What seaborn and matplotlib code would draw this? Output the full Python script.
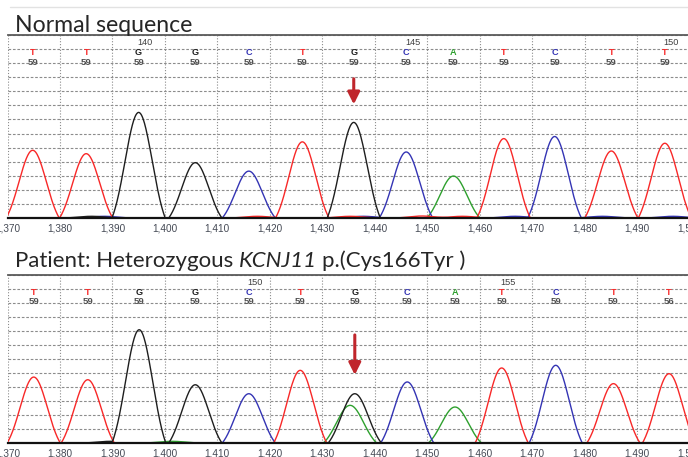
import numpy as np
import pandas as pd
import matplotlib
matplotlib.use('Agg')
import matplotlib.pyplot as plt
import seaborn as sns
from matplotlib.lines import Line2D

# peak tables
# position = scan number, height = signal (one dashed grid step = 100)
normal_pos = [1374.8, 1385.0, 1395.0, 1405.8, 1416.0, 1426.2, 1436.0, 1446.0, 1455.0, 1464.6, 1474.3, 1485.1, 1495.3]
normal_height = [481, 457, 750, 393, 333, 541, 679, 469, 298, 564, 579, 476, 531]
normal_base = ['T', 'T', 'G', 'G', 'C', 'T', 'G', 'C', 'A', 'T', 'C', 'T', 'T']
normal_qv = ['59', '59', '59', '59', '59', '59', '59', '59', '59', '59', '59', '59', '59']
normal_numbers = {2: '140', 7: '145', 12: '150'}
# small background bumps along the baseline
normal_noise_pos = [1386.0, 1388.4, 1417.6, 1435.3, 1437.8, 1449.0, 1456.7, 1466.7, 1483.4, 1496.8]
normal_noise_height = [12, 12, 12, 12, 12, 14, 12, 12, 12, 12]
normal_noise_base = ['G', 'C', 'T', 'T', 'C', 'T', 'T', 'C', 'C', 'C']

patient_pos = [1375.0, 1385.3, 1395.1, 1405.8, 1416.0, 1425.8, 1436.2, 1446.2, 1455.3, 1464.2, 1474.5, 1485.5, 1496.1]
patient_height = [471, 452, 809, 416, 352, 519, 352, 436, 257, 536, 555, 424, 495]
patient_base = ['T', 'T', 'G', 'G', 'C', 'T', 'G', 'C', 'A', 'T', 'C', 'T', 'T']
patient_qv = ['59', '59', '59', '59', '59', '59', '59', '59', '59', '59', '59', '59', '56']
patient_numbers = {4: '150', 9: '155'}
# secondary (heterozygous) A peak under the G call, plus baseline bumps
patient_extra_pos = [1435.3, 1389.6, 1401.4]
patient_extra_height = [269, 12, 12]
patient_extra_base = ['A', 'G', 'A']

mutation_index = 6
x_ticks = list(range(1370, 1501, 10))

base_colors = {'A': '#2ea02e', 'C': '#3434b4', 'G': '#1e1e1e', 'T': '#f82828'}
grid_col = '#8c8c8c'
label_col = '#454a55'
arrow_col = '#c0262c'


def make_traces(pos, height, base):
    # each peak drawn as a clipped gaussian from its read-off position and height
    scan = np.linspace(1366, 1504, 1600)
    frames = []
    for b in ['A', 'C', 'T', 'G']:
        sig = np.zeros_like(scan)
        for p, h, bb in zip(pos, height, base):
            if bb == b:
                g = (np.exp(-(scan - p) ** 2 / (2 * 2.6 ** 2)) - 0.15) / 0.85
                sig += h * np.clip(g, 0, None)
        frames.append(pd.DataFrame({'scan': scan, 'signal': sig, 'base': b}))
    return pd.concat(frames, ignore_index=True)


def style_panel(ax, ytop):
    ax.set_xlim(1370, 1500)
    ax.set_ylim(0, ytop)
    ax.set_xticks(x_ticks)
    ax.set_xticklabels([f'{v:,}' for v in x_ticks], fontsize=7.2, color=label_col,
                       family='Liberation Sans')
    ax.set_yticks(np.arange(0, ytop + 1, 100))
    ax.set_yticklabels([])
    ax.tick_params(length=0, pad=4.3)
    ax.xaxis.grid(True, color=grid_col, linestyle=(0, (1, 1.6)), linewidth=0.8)
    ax.yaxis.grid(True, color=grid_col, linestyle=(0, (2.4, 1.6)), linewidth=0.8)
    ax.set_axisbelow(True)
    for s in ['left', 'right']:
        ax.spines[s].set_visible(False)
    ax.spines['top'].set_color('#5a5a5a')
    ax.spines['top'].set_linewidth(1.3)
    ax.spines['bottom'].set_color('#111111')
    ax.spines['bottom'].set_linewidth(1.6)
    ax.set_xlabel('')
    ax.set_ylabel('')


def base_labels(ax, pos, base, qv, numbers, ytop):
    for i, (p, b, q) in enumerate(zip(pos, base, qv)):
        ax.text(p, ytop - 125, b, color=base_colors[b], fontsize=6.6, ha='center', va='center',
                family='Liberation Sans', fontweight='bold')
        ax.text(p, ytop - 192, q, color='#505050', fontsize=6.8, ha='center', va='center',
                family='Liberation Sans', fontweight='bold')
        if i in numbers:
            ax.text(p + 1.2, ytop - 55, numbers[i], color='#404040', fontsize=6.6, ha='center',
                    va='center', family='Liberation Sans')


sns.set_style('white')
plt.rcParams['font.family'] = ['Lato', 'DejaVu Sans']

fig = plt.figure(figsize=(6.88, 4.57), dpi=100)
ax_top = fig.add_axes([7.5 / 688, 239 / 457, 682 / 688, 183 / 457])
ax_bot = fig.add_axes([7.5 / 688, 14 / 457, 682 / 688, 168 / 457])

# normal sequence
df_normal = make_traces(normal_pos + normal_noise_pos, normal_height + normal_noise_height,
                        normal_base + normal_noise_base)
sns.lineplot(data=df_normal, x='scan', y='signal', hue='base', palette=base_colors,
             estimator=None, linewidth=1.0, legend=False, ax=ax_top)
style_panel(ax_top, 1300)
base_labels(ax_top, normal_pos, normal_base, normal_qv, normal_numbers, 1300)

# patient
df_patient = make_traces(patient_pos + patient_extra_pos, patient_height + patient_extra_height,
                         patient_base + patient_extra_base)
sns.lineplot(data=df_patient, x='scan', y='signal', hue='base', palette=base_colors,
             estimator=None, linewidth=1.0, legend=False, ax=ax_bot)
style_panel(ax_bot, 1200)
base_labels(ax_bot, patient_pos, patient_base, patient_qv, patient_numbers, 1200)

# arrows at the mutated position
arrow_style = dict(arrowstyle='-|>,head_length=0.4,head_width=0.2', color=arrow_col, lw=2.2,
                   mutation_scale=18, shrinkA=0, shrinkB=0)
mx = normal_pos[mutation_index]
ax_top.annotate('', xy=(mx, normal_height[mutation_index] + 128),
                xytext=(mx, normal_height[mutation_index] + 310), arrowprops=arrow_style)
px = patient_pos[mutation_index]
ax_bot.annotate('', xy=(px, patient_height[mutation_index] + 134),
                xytext=(px, patient_height[mutation_index] + 420), arrowprops=arrow_style)

# titles
fig.text(15 / 688, 1 - 32 / 457, 'Normal sequence', fontsize=16.6, va='baseline', ha='left')
fig.add_artist(Line2D([10 / 688, 1], [1 - 7 / 457, 1 - 7 / 457], color='#e2e2e2', lw=1.0))

fig.canvas.draw()
renderer = fig.canvas.get_renderer()
space_px = 5.5
ty = 1 - 267 / 457
x0 = 15 / 688
t1 = fig.text(x0, ty, 'Patient: Heterozygous', fontsize=16, va='baseline', ha='left')
bb = t1.get_window_extent(renderer)
x1 = (bb.x1 + space_px) / fig.bbox.width
t2 = fig.text(x1, ty, 'KCNJ11', fontsize=16, va='baseline', ha='left', style='italic')
bb = t2.get_window_extent(renderer)
x2 = (bb.x1 + space_px) / fig.bbox.width
fig.text(x2, ty, 'p.(Cys166Tyr )', fontsize=16, va='baseline', ha='left')

fig.savefig('out.png', dpi=100)
